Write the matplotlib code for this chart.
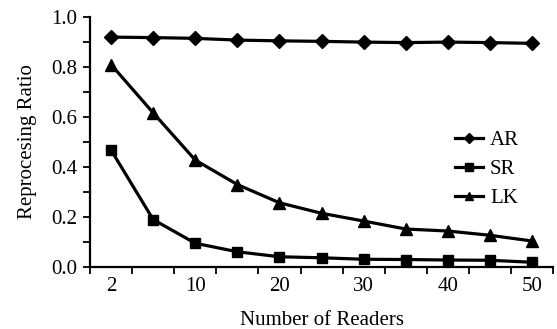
import numpy as np
import matplotlib.pyplot as plt
from matplotlib.ticker import FixedLocator, NullFormatter

plt.rcParams['font.family'] = ['Liberation Serif', 'DejaVu Serif']

readers = [2, 5, 10, 15, 20, 25, 30, 35, 40, 45, 50]
ar = [0.920, 0.918, 0.915, 0.908, 0.905, 0.903, 0.900, 0.898, 0.900, 0.898, 0.895]
sr = [0.468, 0.190, 0.095, 0.061, 0.041, 0.037, 0.031, 0.030, 0.028, 0.027, 0.019]
lk = [0.810, 0.617, 0.428, 0.330, 0.257, 0.215, 0.184, 0.152, 0.144, 0.127, 0.104]

fs = 15

fig = plt.figure(figsize=(5.57, 3.29), dpi=100)
ax = fig.add_axes([0.1616, 0.1884, 0.8314, 0.7596])

x = np.arange(len(readers))
ax.plot(x, ar, color='black', lw=2.3, marker='D', ms=7, label='AR')
ax.plot(x, sr, color='black', lw=2.3, marker='s', ms=7.5, label='SR')
ax.plot(x, lk, color='black', lw=2.3, marker='^', ms=8.5, label='LK')

ax.set_xlim(-0.5, len(readers) - 0.5)
ax.set_ylim(0, 1.0)

# category axis: ticks between categories, labels on every other point
ax.xaxis.set_major_locator(FixedLocator(np.arange(-0.5, len(readers), 1.0)))
ax.xaxis.set_major_formatter(NullFormatter())
ax.xaxis.set_minor_locator(FixedLocator(x[::2]))
ax.set_xticklabels([str(r) for r in readers[::2]], minor=True)
ax.tick_params(axis='x', which='major', direction='out', length=5, width=1.3)
ax.tick_params(axis='x', which='minor', length=0, pad=7, labelsize=fs)

ax.set_yticks(np.arange(0, 1.01, 0.2))
ax.set_yticklabels(['%.1f' % v for v in np.arange(0, 1.01, 0.2)])
ax.set_yticks(np.arange(0.1, 1.0, 0.2), minor=True)
ax.tick_params(axis='y', which='both', direction='out', length=5, width=1.3,
               labelsize=fs, pad=4)

for s in ['top', 'right']:
    ax.spines[s].set_visible(False)
for s in ['left', 'bottom']:
    ax.spines[s].set_linewidth(1.6)

ax.set_xlabel('Number of Readers', fontsize=fs, labelpad=11)
ax.set_ylabel('Reprocesing Ratio', fontsize=fs, labelpad=10)

ax.legend(loc='center left', bbox_to_anchor=(0.765, 0.39), frameon=False,
          fontsize=fs, handlelength=1.35, handletextpad=0.35, labelspacing=0.45,
          borderpad=0, markerscale=0.75)

fig.savefig('out.png', dpi=100)
